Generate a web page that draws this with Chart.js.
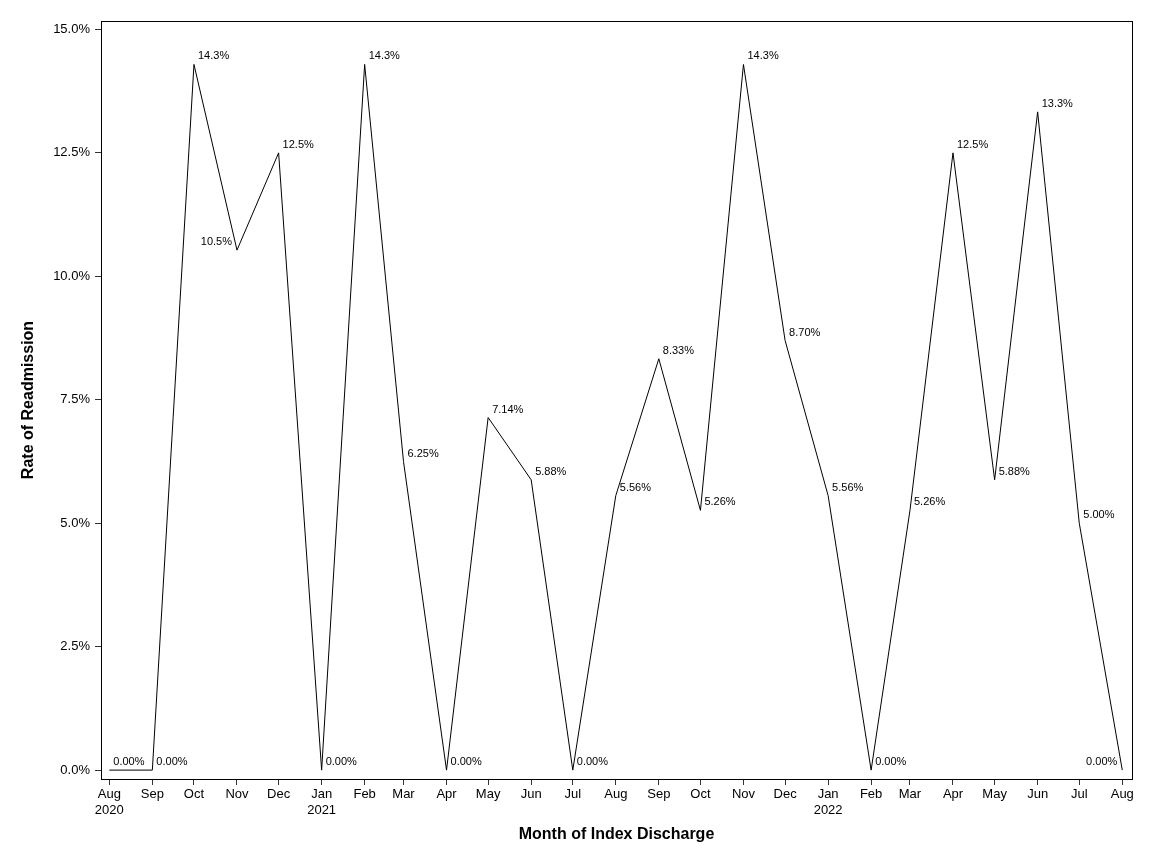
<!DOCTYPE html>
<html>
<head>
<meta charset="utf-8">
<script src="https://cdn.jsdelivr.net/npm/chart.js@4"></script>
<style>
  html, body { margin: 0; padding: 0; background: #fff; }
  #wrap { width: 1152px; height: 864px; }
</style>
</head>
<body>
<div id="wrap"><canvas id="readmit"></canvas></div>
<script>
// months of index discharge and readmission rate (%)
const months = ['2020-08', '2020-09', '2020-10', '2020-11', '2020-12',
    '2021-01', '2021-02', '2021-03', '2021-04', '2021-05', '2021-06', '2021-07',
    '2021-08', '2021-09', '2021-10', '2021-11', '2021-12',
    '2022-01', '2022-02', '2022-03', '2022-04', '2022-05', '2022-06', '2022-07', '2022-08']
const rates = [0, 0, 14.29, 10.53, 12.5,
    0, 14.29, 6.25, 0, 7.14, 5.88, 0,
    5.56, 8.33, 5.26, 14.29, 8.70,
    5.56, 0, 5.26, 12.5, 5.88, 13.33, 5.00, 0]
const yTicks = [0, 2.5, 5, 7.5, 10, 12.5, 15]
const monthNames = ['Jan', 'Feb', 'Mar', 'Apr', 'May', 'Jun', 'Jul', 'Aug', 'Sep', 'Oct', 'Nov', 'Dec']

// labels placed to the left of the point instead of the right
const leftLabels = [3, 24]

const FONT = '"Liberation Sans", Arial, sans-serif'

function toDay(ym) {
    const [y, m] = ym.split('-').map(Number)
    return Date.UTC(y, m - 1, 1) / 86400000
}
const days = months.map(toDay)
const points = days.map((d, i) => ({x: d, y: rates[i]}))

function fmtRate(v) {
    return (v >= 10 ? v.toFixed(1) : v.toFixed(2)) + '%'
}

const frame = {
    id: 'frame',
    afterDraw(chart) {
        const a = chart.chartArea
        const c = chart.ctx
        c.save()
        c.strokeStyle = '#000'
        c.lineWidth = 1
        c.strokeRect(Math.round(a.left) + 0.5, Math.round(a.top) + 0.5,
            Math.round(a.right - a.left), Math.round(a.bottom - a.top))
        c.restore()
    }
}

const pointLabels = {
    id: 'pointLabels',
    afterDatasetsDraw(chart) {
        const c = chart.ctx
        const meta = chart.getDatasetMeta(0)
        c.save()
        c.font = '11px ' + FONT
        c.fillStyle = '#000'
        c.textBaseline = 'middle'
        meta.data.forEach((el, i) => {
            const left = leftLabels.includes(i)
            c.textAlign = left ? 'right' : 'left'
            c.fillText(fmtRate(rates[i]), el.x + (left ? -5 : 4), el.y - 8)
        })
        c.restore()
    }
}

new Chart(document.getElementById('readmit'), {
    type: 'line',
    data: {
        datasets: [{
            label: 'Rate of Readmission',
            data: points,
            borderColor: '#000',
            borderWidth: 1,
            pointRadius: 0,
            tension: 0,
            fill: false
        }]
    },
    options: {
        responsive: true,
        maintainAspectRatio: false,
        animation: false,
        layout: {padding: {top: 21, right: 20, left: 0, bottom: 0}},
        plugins: {legend: {display: false}, tooltip: {enabled: false}},
        scales: {
            x: {
                type: 'linear',
                min: days[0] - 6,
                max: days[days.length - 1] + 7,
                afterBuildTicks: s => { s.ticks = days.map(v => ({value: v})) },
                afterFit: s => { s.height = 85 },
                grid: {display: true, drawOnChartArea: false, drawTicks: true, tickLength: 6, color: '#333'},
                border: {display: true, color: '#000'},
                ticks: {
                    autoSkip: false,
                    maxRotation: 0,
                    padding: 2,
                    color: '#000',
                    font: {family: FONT, size: 13, lineHeight: 1.2},
                    callback: v => {
                        const i = days.indexOf(v)
                        if (i < 0) return ''
                        const [y, m] = months[i].split('-').map(Number)
                        const name = monthNames[m - 1]
                        return (i === 0 || m === 1) ? [name, String(y)] : name
                    }
                },
                title: {
                    display: true,
                    text: 'Month of Index Discharge',
                    color: '#000',
                    font: {family: FONT, size: 16, weight: 'bold'},
                    padding: {top: 0, bottom: 20}
                }
            },
            y: {
                min: -0.18,
                max: 15.17,
                afterBuildTicks: s => { s.ticks = yTicks.map(v => ({value: v})) },
                afterFit: s => { s.width = 101 },
                grid: {display: true, drawOnChartArea: false, drawTicks: true, tickLength: 6, color: '#333'},
                border: {display: true, color: '#000'},
                ticks: {
                    padding: 5,
                    color: '#000',
                    font: {family: FONT, size: 13},
                    callback: v => v.toFixed(1) + '%'
                },
                title: {
                    display: true,
                    text: 'Rate of Readmission',
                    color: '#000',
                    font: {family: FONT, size: 16, weight: 'bold'},
                    padding: {top: 19, bottom: 0}
                }
            }
        }
    },
    plugins: [frame, pointLabels]
})
</script>
</body>
</html>
